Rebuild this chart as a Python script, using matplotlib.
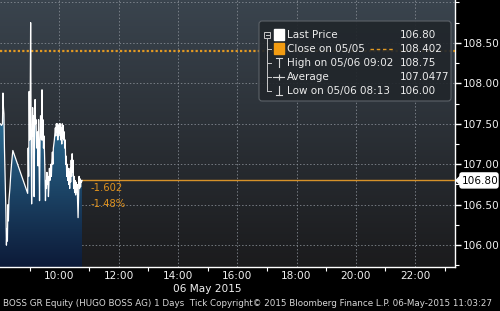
import numpy as np
import matplotlib
matplotlib.use("Agg")
import matplotlib.pyplot as plt
from matplotlib.patches import FancyBboxPatch, Rectangle, Polygon
from matplotlib.ticker import FixedLocator, FuncFormatter

# ---------------- data ----------------
minutes = [0, 1, 3, 5, 6, 7, 8, 9, 10, 11, 12, 13, 14, 15, 16, 17, 18, 20, 22, 24, 26,
           56, 57, 58, 59, 60, 61, 62, 63, 64, 65, 66, 67, 68,
           69, 70, 71, 72, 73, 74, 76, 77, 78, 79, 80, 81, 82, 84, 85, 86, 87, 88, 89,
           90, 91, 92, 93, 94, 95, 96, 97, 98, 99, 100, 101, 102, 103, 104, 105, 106,
           107, 108, 110, 112, 113, 114, 115, 116, 117, 118, 119, 120, 121, 122, 123,
           124, 125, 126, 127, 128, 129, 130, 131, 132, 133, 134, 135, 136, 137, 138,
           139, 140, 141, 142, 143, 144, 145, 146, 147, 148, 149, 150, 151, 152, 153,
           154, 155, 156, 157, 158, 159, 160, 161, 162, 163, 164, 165, 166]
prices = [107.50, 107.50, 107.48, 107.50, 107.88, 107.70, 107.62, 107.20, 106.95, 106.70,
          106.40, 106.00, 106.20, 106.05, 106.50, 106.30, 106.55, 106.70, 106.90, 107.05,
          107.17, 106.64, 107.20, 106.85,
          107.90, 107.30, 107.60, 108.75, 107.40, 106.51, 107.10, 107.70, 107.35, 107.60,
          106.60, 107.40, 107.80, 107.50, 107.55, 107.20, 107.40, 106.98, 107.55, 107.00,
          106.55, 107.30, 107.60, 107.30, 107.92, 107.30, 107.55, 107.20, 107.35,
          107.15, 106.90, 106.55, 106.80, 106.70, 106.90, 106.75, 106.85, 106.60, 106.75,
          106.95, 106.80, 106.90, 107.00, 106.85, 107.05, 107.15, 107.00, 107.20, 107.30,
          107.45, 107.35, 107.50, 107.40, 107.50, 107.30, 107.48, 107.35, 107.50, 107.38,
          107.50, 107.30, 107.45, 107.25, 107.50, 107.32, 107.48, 107.30, 107.40, 107.20,
          107.30, 107.00, 107.10, 106.85, 107.00, 106.80, 106.95, 106.75, 106.90, 106.70,
          106.95, 106.78, 107.05, 106.85, 107.13, 106.90, 107.05, 106.70, 106.85, 106.65,
          106.80, 106.62, 106.78, 106.65, 106.75, 106.55, 106.34, 106.60, 106.85, 106.70,
          106.82, 106.72, 106.80, 106.78, 106.80]
last_price = 106.80
prev_close = 108.402
change_abs = "-1.602"
change_pct = "-1.48%"
x_tick_hours = [10, 12, 14, 16, 18, 20, 22]
y_tick_values = [106.0, 106.5, 107.0, 107.5, 108.0, 108.5]
legend_rows = [("Last Price", "106.80"),
               ("Close on 05/05", "108.402"),
               ("High on 05/06 09:02", "108.75"),
               ("Average", "107.0477"),
               ("Low on 05/06 08:13", "106.00")]
date_label = "06 May 2015"
footer = ("BOSS GR Equity (HUGO BOSS AG) 1 Days  Tick Copyright\u00a9 2015 "
          "Bloomberg Finance L.P. 06-May-2015 11:03:27")

# ---------------- figure ----------------
W, H = 500, 311
fig = plt.figure(figsize=(W / 100, H / 100), dpi=100, facecolor="black")
ax = fig.add_axes([0, 1 - 267 / H, 455 / W, 267 / H])
ax.set_facecolor("black")

hours = 8 + np.array(minutes) / 60.0
pr = np.array(prices)
xmin, xmax = 8.0, 8.0 + 455 / 29.65
ymin, ymax = 105.73, 109.03
ax.set_xlim(xmin, xmax)
ax.set_ylim(ymin, ymax)

# background gradient
top = np.array([58, 68, 78]) / 255
bot = np.array([27, 27, 29]) / 255
t = np.linspace(0, 1, 256)[:, None]
bg = (top[None, :] * (1 - t) + bot[None, :] * t)[:, None, :]
ax.imshow(bg, extent=[xmin, xmax, ymin, ymax], aspect="auto", origin="upper", zorder=0)

# grid
for hh in range(10, 24, 2):
    ax.axvline(hh, color="#8a9098", lw=0.7, ls=(0, (1.5, 2)), zorder=1, alpha=0.8)
for yy in [106.0, 106.5, 107.0, 107.5, 108.0, 108.5, 109.0]:
    ax.axhline(yy, color="#8a9098", lw=0.7, ls=(0, (1.5, 2)), zorder=1, alpha=0.8)

# filled area with gradient
poly = ax.fill_between(hours, pr, ymin, color="none", lw=0, zorder=2)
ftop = np.array([44, 110, 148]) / 255
fbot = np.array([12, 26, 56]) / 255
t2 = np.linspace(0, 1, 256)[:, None]
fg = (ftop[None, :] * (1 - t2) + fbot[None, :] * t2)[:, None, :]
im = ax.imshow(fg, extent=[xmin, xmax, ymin, 107.6], aspect="auto", origin="upper", zorder=2)
im.set_clip_path(poly.get_paths()[0], transform=ax.transData)
ax.set_ylim(ymin, ymax)
ax.set_xlim(xmin, xmax)

ax.plot(hours, pr, color="white", lw=0.9, zorder=4)

# close & last price lines
ax.axhline(prev_close, color="#e39a23", lw=1.6, ls=(0, (1, 1)), zorder=3)
ax.plot([hours[-1], xmax], [last_price, last_price], color="#d6922a", lw=1.0, zorder=3)

ax.text(8.0 + 91 / 29.65, last_price - 0.09, change_abs, color="#e0921e",
        fontsize=7.2, va="center", ha="left", zorder=5)
ax.text(8.0 + 91 / 29.65, last_price - 0.29, change_pct, color="#e0921e",
        fontsize=7.2, va="center", ha="left", zorder=5)

# axes styling
for s in ["left", "top"]:
    ax.spines[s].set_visible(False)
for s in ["right", "bottom"]:
    ax.spines[s].set_color("white")
    ax.spines[s].set_linewidth(1.0)
ax.yaxis.tick_right()
ax.yaxis.set_major_locator(FixedLocator(y_tick_values))
ax.yaxis.set_minor_locator(FixedLocator([105.75, 106.25, 106.75, 107.25, 107.75,
                                          108.25, 108.75, 109.0]))
ax.yaxis.set_major_formatter(FuncFormatter(lambda v, p: f"{v:.2f}"))
ax.xaxis.set_major_locator(FixedLocator(x_tick_hours))
ax.xaxis.set_minor_locator(FixedLocator([9, 11, 13, 15, 17, 19, 21, 23]))
ax.xaxis.set_major_formatter(FuncFormatter(lambda v, p: f"{int(v):02d}:00"))
ax.tick_params(axis="both", which="both", colors="white", labelcolor="#f0f0f0",
               labelsize=7.6, direction="out")
ax.tick_params(axis="y", which="major", length=4, width=1, pad=2)
ax.tick_params(axis="y", which="minor", length=3, width=0.8)
ax.tick_params(axis="x", which="major", length=0, pad=3)
ax.tick_params(axis="x", which="minor", length=3, width=0.8)

# ---------------- overlay in pixel coordinates ----------------
ov = fig.add_axes([0, 0, 1, 1], facecolor="none")
ov.set_xlim(0, W)
ov.set_ylim(H, 0)
ov.axis("off")

# last price tag (position from the axes' data transform)
lp_disp = ax.transData.transform((xmax, last_price))
lp_y = ov.transData.inverted().transform(lp_disp)[1]
ov.add_patch(FancyBboxPatch((460, lp_y - 7.5), 38, 15, boxstyle="round,pad=0,rounding_size=2",
                            fc="white", ec="white", zorder=8, clip_on=False))
ov.add_patch(Polygon([[456, lp_y], [461, lp_y - 5], [461, lp_y + 5]], closed=True,
                     fc="white", ec="white", zorder=8, clip_on=False))
ov.text(462, lp_y + 0.5, f"{last_price:.2f}", color="black", fontsize=7.6,
        ha="left", va="center", zorder=9)

ov.text(207, 289, date_label, color="#f0f0f0", fontsize=7.6, ha="center", va="center")
ov.text(3, 304, footer, color="#d8d8d8", fontsize=6.35, ha="left", va="center")

# legend box
ov.add_patch(FancyBboxPatch((259, 21), 192, 80, boxstyle="round,pad=0,rounding_size=3",
                            fc=(0.13, 0.15, 0.17, 0.92), ec="#5c6268", lw=0.8, zorder=5))
row_y = [35, 49, 63, 77, 91]
tc = "#ececec"
ov.plot([267, 267], [38, 91], color="#c8c8c8", lw=0.7, zorder=6)
for yy in row_y[1:]:
    ov.plot([267, 271], [yy, yy], color="#c8c8c8", lw=0.7, zorder=6)
ov.add_patch(Rectangle((264, 31.5), 6, 6, fc="none", ec="#c8c8c8", lw=0.7, zorder=6))
ov.plot([265.5, 268.5], [34.5, 34.5], color="#c8c8c8", lw=0.7, zorder=6)
ov.add_patch(Rectangle((274, 29), 10, 11, fc="white", ec="white", zorder=6))
ov.add_patch(Rectangle((274, 43), 10, 11, fc="#f39c12", ec="#f39c12", zorder=6))
ov.plot([276, 282], [58, 58], color="#d8d8d8", lw=0.8, zorder=6)
ov.plot([279, 279], [58, 67], color="#d8d8d8", lw=0.8, zorder=6)
ov.plot([273, 284], [77, 77], color="#d8d8d8", lw=0.8, zorder=6)
ov.plot([279], [77], marker="+", ms=4, color="#d8d8d8", mew=0.8, zorder=6)
ov.plot([279, 279], [86, 95], color="#d8d8d8", lw=0.8, zorder=6)
ov.plot([276, 282], [95, 95], color="#d8d8d8", lw=0.8, zorder=6)
ov.plot([370, 394], [49, 49], color="#e39a23", lw=1.0, ls=(0, (2.5, 2)), zorder=6)
for (lab, val), yy in zip(legend_rows, row_y):
    ov.text(287, yy, lab, color=tc, fontsize=7.5, ha="left", va="center", zorder=7)
    ov.text(400, yy, val, color=tc, fontsize=7.5, ha="left", va="center", zorder=7)

fig.savefig("out.png", dpi=100, facecolor="black")
